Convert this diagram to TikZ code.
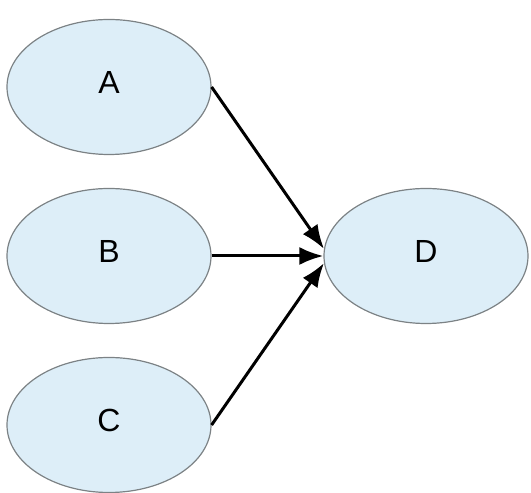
\documentclass[tikz,border=0pt]{standalone}
\usepackage{fontspec}
\setmainfont{Liberation Sans}
\usepackage{xcolor}
\usepackage{tikz}
\usetikzlibrary{arrows.meta, shapes.geometric}

\definecolor{bubblefill}{HTML}{DDEEF8}
\definecolor{bubbleline}{HTML}{7C8285}

\tikzset{
  bubble/.style={ellipse, draw=bubbleline, line width=1.2pt, fill=bubblefill,
    minimum width=204pt, minimum height=135pt, inner sep=0pt,
    font=\fontsize{32}{38}\selectfont, text depth=10pt},
  link/.style={line width=3pt, -{Latex[length=24pt, width=18pt]}}
}

\begin{document}
\begin{tikzpicture}[x=1pt, y=1pt]
          \useasboundingbox (0,0) rectangle (531,493);

          \node[bubble] (a) at (109,406) {A};
          \node[bubble] (b) at (109,237) {B};
          \node[bubble] (c) at (109,68) {C};
          \node[bubble] (d) at (426,237) {D};

          \draw[link] (a.east) -- (d.176);
          \draw[link] (b.east) -- (d.west);
          \draw[link] (c.east) -- (d.184);
        \end{tikzpicture}
\end{document}
